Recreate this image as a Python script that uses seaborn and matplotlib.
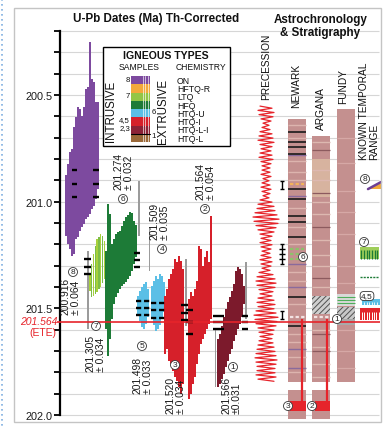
import matplotlib
matplotlib.use("Agg")
import matplotlib.pyplot as plt
from matplotlib.patches import Rectangle, Polygon
import numpy as np
import pandas as pd
import seaborn as sns

sns.set_theme(style="white")
plt.rcParams["font.family"] = ["Liberation Sans", "DejaVu Sans"]
plt.rcParams["hatch.linewidth"] = 0.7

# ---------------- single-zircon U-Pb dates (Ma), young and old end of each 2-sigma bar ----------------
s8_young = [200.875, 200.823, 200.767, 200.753, 200.650, 200.603, 200.556, 200.566, 200.598,
            200.556, 200.472, 200.463, 200.252, 200.425, 200.439, 200.533, 200.533]
s8_old = [201.161, 201.198, 201.222, 201.255, 201.245, 201.175, 201.166, 201.138, 201.119,
          201.105, 201.081, 201.072, 201.058, 201.034, 201.020, 200.988, 200.941]

s7_young = [201.339, 201.292, 201.245, 201.208, 201.175, 201.166, 201.152, 201.161, 201.184]
s7_old = [201.419, 201.447, 201.442, 201.433, 201.423, 201.409, 201.400, 201.381, 201.363]

s6_young = [201.231, 201.011, 201.058, 201.198, 201.175, 201.152, 201.142, 201.138, 201.114,
            201.091, 201.072, 201.063, 201.048, 201.053, 201.091, 201.109]
s6_old = [201.597, 201.723, 201.644, 201.550, 201.480, 201.447, 201.428, 201.409, 201.395,
          201.386, 201.377, 201.363, 201.348, 201.325, 201.292, 201.259]

s5_young = [201.442, 201.419, 201.400, 201.386, 201.377, 201.409]
s5_old = [201.527, 201.559, 201.587, 201.597, 201.573, 201.541]

s4_young = [201.395, 201.372, 201.348, 201.363, 201.339, 201.348, 201.377]
s4_old = [201.541, 201.578, 201.606, 201.597, 201.578, 201.550, 201.517]

s3_young = [201.442, 201.409, 201.363, 201.339, 201.316, 201.269, 201.283, 201.255, 201.278, 201.316]
s3_old = [201.714, 201.691, 201.747, 201.761, 201.794, 201.822, 201.841, 201.869, 201.902, 201.855]

s2_young = [201.456, 201.423, 201.442, 201.409, 201.372, 201.208, 201.222, 201.302, 201.259,
            201.231, 201.283, 201.067]
s2_old = [201.925, 201.902, 201.855, 201.822, 201.761, 201.714, 201.667, 201.644, 201.620,
          201.597, 201.573, 201.550]

s1_young = [201.644, 201.620, 201.583, 201.541, 201.503, 201.470, 201.447, 201.419, 201.386,
            201.325, 201.306, 201.316, 201.339, 201.395]
s1_old = [201.869, 201.855, 201.831, 201.808, 201.775, 201.747, 201.714, 201.691, 201.653,
          201.625, 201.597, 201.573, 201.541, 201.480]

# previously published dates (grey bars)
prev_young = [201.231, 200.903, 201.128, 201.269, 201.597, 201.283]
prev_old = [201.597, 201.161, 201.325, 201.583, 201.869, 201.550]

# weighted-mean dates per sample
sample_ids = ["1", "2", "3", "4", "5", "6", "7", "8"]
wm_date = [201.566, 201.564, 201.520, 201.509, 201.498, 201.274, 201.305, 200.916]
wm_err = [0.031, 0.054, 0.034, 0.035, 0.033, 0.032, 0.034, 0.064]

ete_age = 201.564

# precession index: peak amplitude of successive cycles, youngest first
precession_amp = [6, 8, 7, 5, 3, 4, 6, 7, 8, 6, 5, 6, 7, 5, 4, 4, 5, 3, 4, 5, 4, 3, 6, 8, 9,
                  11, 13, 12, 10, 8, 6, 5, 6, 5, 4, 5, 6, 5, 4, 7, 9, 10, 9, 7, 6, 8, 9, 8, 10,
                  12, 11, 10, 8, 7, 6, 7, 8, 9, 10, 11, 10, 9, 9, 10, 8]
precession_start, precession_half_period = 200.552, 0.01

# stratigraphic columns (Ma)
newark_top, argana_top, fundy_top, column_base = 200.6125, 200.692, 200.566, 201.845
lower_top, lower_base = 201.883, 202.019
newark_black = [200.673, 200.720, 200.744, 200.777, 200.941, 200.988, 201.067, 201.095, 201.166,
                201.447, 201.583]
newark_purple = [200.780, 200.975, 201.290, 201.400, 201.690, 201.780]
newark_light = [200.640, 200.700, 200.810, 200.860, 200.900, 201.030, 201.120, 201.200, 201.330,
                201.370, 201.480, 201.620, 201.660, 201.730, 201.800]
argana_dark = [200.760, 200.960, 201.120, 201.360, 201.620, 201.700]
argana_light = [200.720, 200.850, 200.900, 201.000, 201.060, 201.180, 201.250, 201.300, 201.400,
                201.600, 201.680, 201.760, 201.820]
fundy_light = [200.700, 200.820, 200.950, 201.050, 201.150, 201.300, 201.380, 201.600, 201.700,
               201.780]

# legend
chem_labels = ["ON", "HFTQ-R", "LTQ", "HFQ", "HTQ-U", "HTQ-I", "HTQ-L-I", "HTQ-L"]
chem_colors = ["#7d4a9f", "#f2a93b", "#93c646", "#1d7b37", "#5bbfe6", "#d6202a", "#8b2236", "#9a6838"]

y_ticks = [200.5, 201.0, 201.5, 202.0]
y_tick_labels = ["200.5", "201.0", "201.5", "202.0"]

RED = "#e6242b"
GREY = "#9b9b9b"

# ---------------- figure ----------------
fig = plt.figure(figsize=(3.90, 4.27), dpi=100)
fig.patch.set_facecolor("white")
ax = fig.add_axes([60 / 390, 11 / 427, 322 / 390, 384 / 427], zorder=1)
ax.set_facecolor("none")

# horizontal grid every 0.1 Ma
grid_levels = np.round(np.arange(200.2, 202.001, 0.1), 1)
ax.hlines(grid_levels, 60, 379, color="#d6d6d6", lw=0.8, zorder=0, clip_on=False)


def draw_sample(young, old, x0, step, width, colors, z=2):
    xs = x0 + step * np.arange(len(young))
    cols = [colors[i % len(colors)] for i in range(len(young))]
    ax.bar(xs, np.subtract(old, young), bottom=young, width=width, color=cols,
           linewidth=0, zorder=z)


draw_sample(s8_young, s8_old, 66, 2.0, 2.05, ["#7d4a9f"])
draw_sample(s7_young, s7_old, 90, 1.8, 1.4, ["#a8d03c", "#7cbd48"])
draw_sample(s6_young, s6_old, 106, 2.0, 2.0, ["#1d7b37"])
draw_sample(s5_young, s5_old, 138, 2.0, 1.3, ["#5bbfe6"])
draw_sample(s4_young, s4_old, 152, 2.0, 1.3, ["#5bbfe6"])
draw_sample(s3_young, s3_old, 165, 2.0, 1.7, ["#d6202a"])
draw_sample(s2_young, s2_old, 189, 2.0, 1.7, ["#d6202a"])
draw_sample(s1_young, s1_old, 218, 2.0, 1.9, ["#7c1a2c"])

prev_x = [88, 139, 149.5, 186, 215.5, 246]
ax.bar(prev_x, np.subtract(prev_old, prev_young), bottom=prev_young, width=1.8,
       color=GREY, linewidth=0, zorder=1.5)

# weighted means (mean and +/- error), drawn as short black dashes
wm_span = {"8": [(72, 77), (93, 99)], "7": [(84, 91)], "6": [(134, 140)],
           "5": [(136, 151)], "4": [(151, 167)], "3": [(181, 188)], "2": [(186, 193)],
           "1": [(213, 224), (242, 248)]}
for sid, d, e in zip(sample_ids, wm_date, wm_err):
    style = (0, (2.2, 1.2)) if sid in ("4", "5") else "solid"
    for xa, xb in wm_span[sid]:
        ax.hlines([d - e, d, d + e], xa, xb, color="black", lw=1.7,
                  linestyles=style, zorder=4)

# end-Triassic extinction line
ax.hlines(ete_age, 57, 380, color=RED, lw=1.2, zorder=7, clip_on=False)

# precession curve
n_half = 2 * len(precession_amp)
prec_age = precession_start + precession_half_period * np.arange(n_half)
prec_x = [266 + (1 if k % 2 else -1) * precession_amp[k // 2] for k in range(n_half)]
prec_df = pd.DataFrame({"x": prec_x, "age": prec_age})
sns.lineplot(data=prec_df, x="x", y="age", sort=False, estimator=None,
             color=RED, lw=0.9, ax=ax, zorder=3)

# stratigraphic columns
COL = "#c4908f"
for x0, top in [(288, newark_top), (312, argana_top), (337, fundy_top)]:
    ax.add_patch(Rectangle((x0, top), 18, column_base - top, fc=COL, ec="none", zorder=2))
for x0 in (288, 312):
    ax.add_patch(Rectangle((x0, lower_top), 18, lower_base - lower_top, fc=COL, ec="none",
                           zorder=2, clip_on=False))
ax.hlines(newark_light, 288, 306, color="#ddb4ae", lw=1.0, zorder=2.2)
ax.hlines(newark_purple, 288, 306, color="#8a6a9c", lw=1.0, zorder=2.3)
ax.hlines(newark_black, 288, 306, color="#1a1a1a", lw=1.2, zorder=2.4)
ax.add_patch(Rectangle((312, 200.80), 18, 0.18, fc="#d7b39f", ec="none", zorder=2.1))
ax.hlines(argana_light, 312, 330, color="#ddb8b0", lw=1.0, zorder=2.2)
ax.hlines(argana_dark, 312, 330, color="#8c5a5e", lw=0.9, zorder=2.3)
ax.hlines(fundy_light, 337, 355, color="#d6a8a6", lw=0.9, zorder=2.2)

# hatched intervals and lava flow levels
ax.add_patch(Rectangle((312, 201.442), 18, 0.085, fc="#cfcfcf", ec="#505050", hatch="//////",
                       lw=0, zorder=2.5))
ax.add_patch(Rectangle((337, 201.433), 18, 0.056, fc="#d9d9d9", ec="none", zorder=2.5))
ax.hlines([201.447, 201.462, 201.477], 337, 355, color="#4fae5a", lw=0.8, zorder=2.6)
ax.add_patch(Rectangle((337, 201.494), 18, 0.056, fc="#c8c8c8", ec="#505050", hatch="//////",
                       lw=0, zorder=2.5))
ax.add_patch(Rectangle((337, 201.550), 18, 0.03, fc="#a9a9a9", ec="none", zorder=2.5))
ax.hlines(200.917, 290, 304, color="#f2b25a", lw=1.6, linestyles=(0, (1.5, 1)), zorder=2.6)
ax.hlines([201.222, 201.245, 201.268], 290, 304, color="#8cc26a", lw=1.6,
          linestyles=(0, (1.5, 1)), zorder=2.6)
ax.hlines(201.541, 290, 305, color="#f3e3e3", lw=1.6, linestyles=(0, (1.5, 1)), zorder=2.6)
ax.hlines(201.541, 314, 329, color="#f3e3e3", lw=1.6, linestyles=(0, (1.5, 1)), zorder=2.6)

# astrochronologic age uncertainties
for lo, hi in [(200.903, 200.941), (201.198, 201.292), (201.513, 201.550)]:
    ax.vlines(282, lo, hi, color="black", lw=1.0, zorder=4)
    ax.hlines([lo, hi], 280, 284, color="black", lw=1.0, zorder=4)
ax.hlines([201.222, 201.245, 201.268], 279, 285, color="black", lw=1.0, zorder=4)

# correlation of samples 3 and 2 to their stratigraphic levels
ax.vlines(302, 201.550, 201.945, color=RED, lw=1.6, zorder=6, clip_on=False)
ax.vlines(327, 201.550, 201.945, color=RED, lw=1.6, zorder=6, clip_on=False)
ax.add_patch(Rectangle((290, 201.934), 16, 0.047, fc=RED, ec="none", zorder=6, clip_on=False))
ax.add_patch(Rectangle((315, 201.934), 15, 0.047, fc=RED, ec="none", zorder=6, clip_on=False))

# known temporal ranges
ax.add_patch(Polygon([(369, 200.941), (381, 200.941), (381, 200.912)], fc="#f2a93b", ec="none",
                     zorder=3, clip_on=False))
ax.plot([368, 381], [200.941, 200.908], color="#6d3f94", lw=1.8, zorder=3.1, clip_on=False)
ax.add_patch(Rectangle((360, 201.213), 19, 0.056, fc="#9fce5a", ec="none", zorder=3))
ax.vlines(np.arange(361.5, 379, 2.6), 201.225, 201.269, color="#1d7b37", lw=0.9, zorder=3.1)
ax.hlines(201.353, 360, 379, color="#1d7b37", lw=1.0, linestyles=(0, (1.5, 0.8)), zorder=3)
ax.add_patch(Rectangle((362, 201.456), 18, 0.028, fc="#5bbfe6", ec="none", zorder=3))
ax.vlines(np.arange(364, 380, 2.6), 201.468, 201.484, color="white", lw=0.6, zorder=3.1)
ax.add_patch(Rectangle((360, 201.498), 20, 0.057, fc="#e2232b", ec="none", zorder=3))
ax.vlines(np.arange(362, 380, 2.4), 201.518, 201.555, color="white", lw=0.7, zorder=3.1)

# axes cosmetics
ax.set_xlim(60, 382)
ax.set_ylim(202.0, 200.2)
ax.set_xlabel("")
ax.set_ylabel("")
for side in ("top", "right", "bottom"):
    ax.spines[side].set_visible(False)
ax.spines["left"].set_color("black")
ax.spines["left"].set_linewidth(1.6)
ax.set_xticks([])
ax.set_yticks(y_ticks)
ax.set_yticklabels(y_tick_labels)
ax.set_yticks(grid_levels, minor=True)
ax.tick_params(axis="y", which="both", left=True, direction="out", length=4, width=1.3,
               color="black", labelsize=7.8, pad=1.5, labelcolor="#1a1a1a")

# ---------------- annotation layer (pixel coordinates) ----------------
ov = fig.add_axes([0, 0, 1, 1], zorder=5)
ov.set_xlim(0, 390)
ov.set_ylim(427, 0)
ov.axis("off")
ov.patch.set_alpha(0)

ov.plot([2, 2], [0, 427], color="#7eaee0", lw=1.2, linestyle=(0, (1, 2)))
ov.add_patch(Rectangle((14, 9), 367, 414, fc="none", ec="#c4c4c4", lw=1.0))

ov.text(156, 19, "U-Pb Dates (Ma) Th-Corrected", ha="center", va="center",
        fontsize=8.4, fontweight="bold", color="#111111")
ov.text(321, 20, "Astrochronology", ha="center", va="center", fontsize=8.4,
        fontweight="bold", color="#111111")
ov.text(320, 33, "& Stratigraphy", ha="center", va="center", fontsize=8.4,
        fontweight="bold", color="#111111")

ov.text(57, 322, f"{ete_age:.3f}", ha="right", va="center", fontsize=7.5,
        style="italic", color=RED)
ov.text(56, 333, "(ETE)", ha="right", va="center", fontsize=7.5, color=RED)

# column headings
for x, y, s in [(266, 100, "PRECESSION"), (296, 108, "NEWARK"), (321, 130, "ARGANA"),
                (343, 104, "FUNDY")]:
    ov.text(x, y, s, rotation=90, ha="center", va="bottom", fontsize=7.3, color="#111111")
ov.text(369, 160, "KNOWN TEMPORAL\nRANGE", rotation=90, ha="center", va="bottom",
        fontsize=7.3, multialignment="left", linespacing=1.0, color="#111111")

# sample numbers and weighted-mean dates
circle_box = dict(boxstyle="circle,pad=0.12", fc="white", ec="#333333", lw=0.6)
circle_pos = {"8": (73, 273), "7": (96, 327), "6": (123, 200), "5": (142, 347),
              "4": (162, 250), "3": (175, 366), "2": (205, 210), "1": (233, 368)}
label_pos = {"8": (71, 278, "top"), "7": (95.5, 335, "top"), "6": (123.5, 190, "bottom"),
             "5": (142.5, 357, "top"), "4": (159.5, 240, "bottom"), "3": (175.5, 377, "top"),
             "2": (205.5, 200, "bottom"), "1": (231.5, 377, "top")}
for sid, d, e in zip(sample_ids, wm_date, wm_err):
    cx, cy = circle_pos[sid]
    ov.text(cx, cy, sid, ha="center", va="center", fontsize=6, color="#222222", bbox=circle_box)
    lx, ly, va = label_pos[sid]
    sep = "±" if sid == "1" else "± "
    ov.text(lx, ly, f"{d:.3f}\n{sep}{e:.3f}", rotation=90, ha="center", va=va,
            multialignment="left", fontsize=7.4, linespacing=1.12, color="#1a1a1a")

# circled numbers on the stratigraphic side
for x, y, s in [(303, 258, "6"), (337, 320, "1"), (288, 407, "3"), (312, 407, "2"),
                (365, 180, "8"), (364, 243, "7")]:
    ov.text(x, y, s, ha="center", va="center", fontsize=6, color="#222222", bbox=circle_box)
ov.text(367, 297, "4,5", ha="center", va="center", fontsize=6, color="#222222",
        bbox=dict(boxstyle="round,pad=0.12,rounding_size=0.45", fc="white", ec="#333333", lw=0.6))

# legend box
ov.add_patch(Rectangle((103, 48), 127, 99, fc="white", ec="black", lw=1.0, zorder=1))
ov.text(166, 56, "IGNEOUS TYPES", ha="center", va="center", fontsize=7.6,
        fontweight="bold", color="#111111", zorder=2)
ov.text(139, 68, "SAMPLES", ha="center", va="center", fontsize=6.2, color="#111111", zorder=2)
ov.text(201, 68, "CHEMISTRY", ha="center", va="center", fontsize=6.2, color="#111111", zorder=2)
ov.text(111, 111, "INTRUSIVE", rotation=90, ha="center", va="center", fontsize=8.3,
        color="#111111", zorder=2)
ov.text(163, 111, "EXTRUSIVE", rotation=90, ha="center", va="center", fontsize=8.3,
        color="#111111", zorder=2)
row_h = 8.25
for i, (lab, c) in enumerate(zip(chem_labels, chem_colors)):
    y0 = 77 + i * row_h
    ov.add_patch(Rectangle((131, y0), 19, row_h, fc=c, ec="none", zorder=2))
    for xs in (142.5, 145, 147.5):
        ov.plot([xs, xs], [y0, y0 + row_h], color="white", lw=0.6, alpha=0.75, zorder=3)
    ov.text(177, y0 + row_h / 2 + 0.3, lab, ha="left", va="center", fontsize=6.3,
            color="#111111", zorder=2)
ov.plot([131, 150], [77 + 7 * row_h, 77 + 7 * row_h], color="black", lw=0.8, zorder=3)
for x, y, s, ha in [(129.5, 81, "8", "right"), (129.5, 97, "7", "right"),
                    (151.3, 112, "6", "left"), (130, 121, "4,5", "right"),
                    (130, 129, "2,3", "right"), (151.3, 137, "1", "left")]:
    ov.text(x, y, s, ha=ha, va="center", fontsize=5.6, color="#111111", zorder=2)

fig.savefig("out.png", dpi=100, facecolor="white")
